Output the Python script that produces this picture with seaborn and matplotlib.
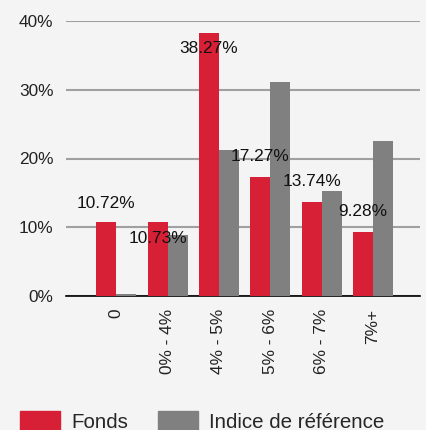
import numpy as np
import pandas as pd
import seaborn as sns
import matplotlib.pyplot as plt
from matplotlib.patches import Patch

categories = ["0", "0% - 4%", "4% - 5%", "5% - 6%", "6% - 7%", "7%+"]
fonds = [10.72, 10.73, 38.27, 17.27, 13.74, 9.28]
indice = [0.3, 8.9, 21.3, 31.1, 15.3, 22.6]
series = ["Fonds", "Indice de référence"]

# label offsets (px) relative to the top of the red bar
label_offsets = [19, -16, -16, 21, 20, 21]

df = pd.DataFrame({
    "cat": categories * 2,
    "val": fonds + indice,
    "serie": [series[0]] * 6 + [series[1]] * 6,
})

bg = "#f4f4f4"
red = "#d71f35"
grey = "#808080"

sns.set_style("white")
plt.rcParams['font.family'] = ['Liberation Sans', 'DejaVu Sans']

fig = plt.figure(figsize=(4.26, 4.30), dpi=100, facecolor=bg)
ax = fig.add_axes([0.155, 1 - 296 / 430, 0.831, (296 - 21) / 430])
ax.set_facecolor(bg)

sns.barplot(data=df, x="cat", y="val", hue="serie", palette=[red, grey],
            width=0.78, saturation=1, linewidth=0, ax=ax, legend=False, zorder=3)

ax.set_ylim(0, 40)
ax.set_xlim(-0.98, 5.92)
ax.set_yticks([0, 10, 20, 30, 40])
ax.set_yticklabels([f"{v}%" for v in [0, 10, 20, 30, 40]])
ax.yaxis.grid(True, color="#a0a0a0", linewidth=1.5, zorder=0)
ax.set_axisbelow(True)
ax.tick_params(axis="y", length=0, pad=9, labelsize=12.4, colors="#222222")
ax.tick_params(axis="x", length=5, width=1, pad=4, labelsize=12.4,
               labelrotation=90, colors="#222222", color="black", direction="out")
ax.set_xticks([-0.98, 5.92], minor=True)
ax.tick_params(axis="x", which="minor", length=5, direction="in")
ax.set_xlabel("")
ax.set_ylabel("")
for s in ["left", "right", "top"]:
    ax.spines[s].set_visible(False)
ax.spines["bottom"].set_color("black")
ax.spines["bottom"].set_linewidth(1.2)
ax.spines["bottom"].set_zorder(2)

for i, v in enumerate(fonds):
    ax.annotate(f"{v:.2f}%", xy=(i - 0.195, v), xytext=(0, label_offsets[i] * 0.72),
                textcoords="offset points", ha="center", va="center",
                fontsize=12.4, color="#111111", zorder=5)

handles = [Patch(facecolor=red, edgecolor=red), Patch(facecolor=grey, edgecolor=grey)]
fig.legend(handles, series, loc="upper left", bbox_to_anchor=(20 / 426, 1 - 411 / 430),
           frameon=False, ncol=2, fontsize=14.8, handlelength=1.95, handleheight=1.1,
           handletextpad=0.55, columnspacing=1.45, borderpad=0, borderaxespad=0)

fig.savefig("out.png", dpi=100, facecolor=bg)
